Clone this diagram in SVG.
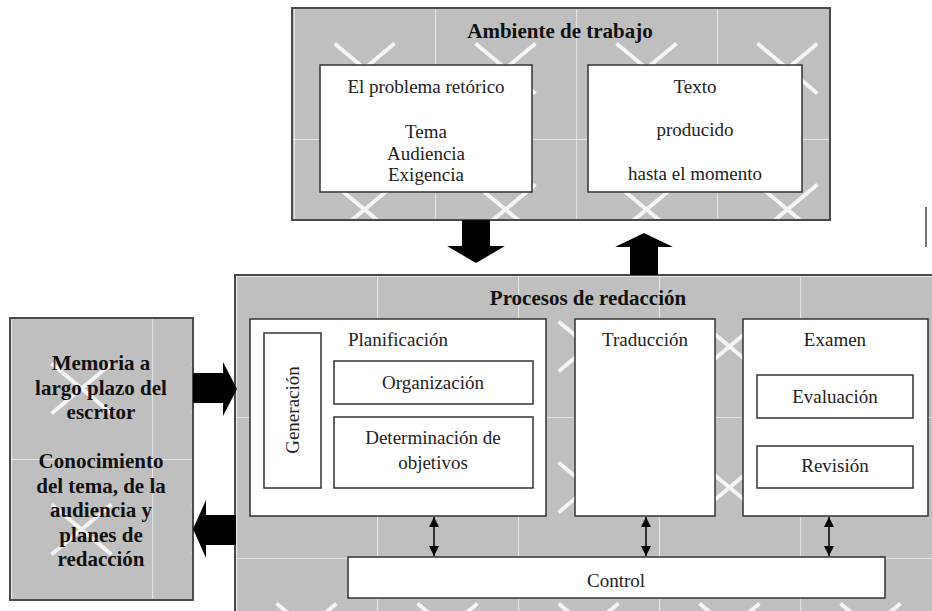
<svg xmlns="http://www.w3.org/2000/svg" width="932" height="611" viewBox="0 0 932 611">
  <style>
    .gray { stroke: #4a4a4a; stroke-width: 2; }
    .wbox { fill: #ffffff; stroke: #333333; stroke-width: 1.5; }
    .t { font-family: 'Liberation Serif', 'DejaVu Serif', serif; font-size: 19px; fill: #222222; text-anchor: middle; }
    .b { font-family: 'Liberation Serif', 'DejaVu Serif', serif; font-size: 21px; font-weight: bold; fill: #111111; text-anchor: middle; }
    .blk { fill: #000000; }
    .dbl { stroke: #000000; stroke-width: 1.5; fill: none; marker-start: url(#ah); marker-end: url(#ah); }
  </style>
  <defs>
    <g id="tile">
      <rect x="0" y="0" width="141" height="141" fill="#bfbfbf"/>
      <line x1="0.5" y1="0" x2="0.5" y2="141" stroke="#e4e4e4" stroke-width="1.2"/>
      <line x1="0" y1="0.5" x2="141" y2="0.5" stroke="#e4e4e4" stroke-width="1.2"/>
      <line x1="40.5" y1="45.5" x2="100.5" y2="95.5" stroke="#f4f4f4" stroke-width="4"/>
      <line x1="100.5" y1="45.5" x2="40.5" y2="95.5" stroke="#f4f4f4" stroke-width="4"/>
    </g>
    <pattern id="pTop" patternUnits="userSpaceOnUse" x="12" y="-2" width="141" height="141"><use href="#tile"/></pattern>
    <pattern id="pLeft" patternUnits="userSpaceOnUse" x="11" y="36" width="141" height="141"><use href="#tile"/></pattern>
    <pattern id="pBot" patternUnits="userSpaceOnUse" x="95" y="135" width="141" height="141"><use href="#tile"/></pattern>
    <marker id="ah" viewBox="0 0 10 10" refX="10" refY="5" markerWidth="10" markerHeight="10" markerUnits="userSpaceOnUse" orient="auto-start-reverse">
      <path d="M0,0 L10,5 L0,10 Z" fill="#000000"/>
    </marker>
  </defs>

  <g id="ambiente">
    <rect class="gray" x="292" y="8" width="538" height="212" fill="url(#pTop)"/>
    <text class="b" x="560" y="38">Ambiente de trabajo</text>
  </g>
  <g id="problema">
    <rect class="wbox" x="320" y="65" width="212" height="127"/>
    <text class="t" x="426" y="92.5">El problema retórico</text>
    <text class="t" x="426" y="137.5">Tema</text>
    <text class="t" x="426" y="159.5">Audiencia</text>
    <text class="t" x="426" y="180.5">Exigencia</text>
  </g>
  <g id="texto">
    <rect class="wbox" x="588" y="65" width="214" height="127"/>
    <text class="t" x="695" y="92.5">Texto</text>
    <text class="t" x="695" y="135.5">producido</text>
    <text class="t" x="695" y="179.5">hasta el momento</text>
  </g>

  <g id="memoria">
    <rect class="gray" x="10" y="318" width="183" height="282" fill="url(#pLeft)"/>
    <text class="b" x="101" y="370">Memoria a</text>
    <text class="b" x="101" y="394.5">largo plazo del</text>
    <text class="b" x="101" y="419">escritor</text>
    <text class="b" x="101" y="468">Conocimiento</text>
    <text class="b" x="101" y="492.5">del tema, de la</text>
    <text class="b" x="101" y="517">audiencia y</text>
    <text class="b" x="101" y="541.5">planes de</text>
    <text class="b" x="101" y="566">redacción</text>
  </g>

  <g id="procesos">
    <rect class="gray" x="235" y="275" width="700" height="340" fill="url(#pBot)"/>
    <text class="b" x="588" y="305">Procesos de redacción</text>
  </g>
  <g id="planificacion">
    <rect class="wbox" x="250" y="319" width="296" height="197"/>
    <text class="t" x="398" y="345.5">Planificación</text>
  </g>
  <g id="generacion">
    <rect class="wbox" x="264" y="333" width="57" height="155"/>
    <text class="t" x="292" y="416.5" transform="rotate(-90 292 410)">Generación</text>
  </g>
  <g id="organizacion">
    <rect class="wbox" x="334" y="361" width="199" height="43"/>
    <text class="t" x="433" y="388.5">Organización</text>
  </g>
  <g id="determinacion">
    <rect class="wbox" x="334" y="417" width="199" height="71"/>
    <text class="t" x="433" y="443.5">Determinación de</text>
    <text class="t" x="433" y="468.5">objetivos</text>
  </g>
  <g id="traduccion">
    <rect class="wbox" x="575" y="319" width="140" height="197"/>
    <text class="t" x="645" y="345.5">Traducción</text>
  </g>
  <g id="examen">
    <rect class="wbox" x="743" y="319" width="185" height="197"/>
    <text class="t" x="835" y="345.5">Examen</text>
  </g>
  <g id="evaluacion">
    <rect class="wbox" x="757" y="375" width="156" height="43"/>
    <text class="t" x="835" y="403">Evaluación</text>
  </g>
  <g id="revision">
    <rect class="wbox" x="757" y="446" width="156" height="42"/>
    <text class="t" x="835" y="471.5">Revisión</text>
  </g>
  <g id="control">
    <rect class="wbox" x="348" y="557" width="537" height="41"/>
    <text class="t" x="616" y="586.5">Control</text>
  </g>

  <g id="connectors">
    <polygon class="blk" points="462,220 490,220 490,246 505,246 476,263 447,246 462,246"/>
    <polygon class="blk" points="644,233 673,247 658,247 658,275 630,275 630,247 615,247"/>
    <polygon class="blk" points="193,373 223,373 223,362 237,389 223,416 223,403 193,403"/>
    <polygon class="blk" points="236,515 206,515 206,500 193,529 206,558 206,545 236,545"/>
    <line class="dbl" x1="434" y1="517" x2="434" y2="556"/>
    <line class="dbl" x1="646" y1="517" x2="646" y2="556"/>
    <line class="dbl" x1="829" y1="517" x2="829" y2="556"/>
    <line x1="926" y1="207" x2="926" y2="247" stroke="#444444" stroke-width="1.5"/>
  </g>
</svg>
